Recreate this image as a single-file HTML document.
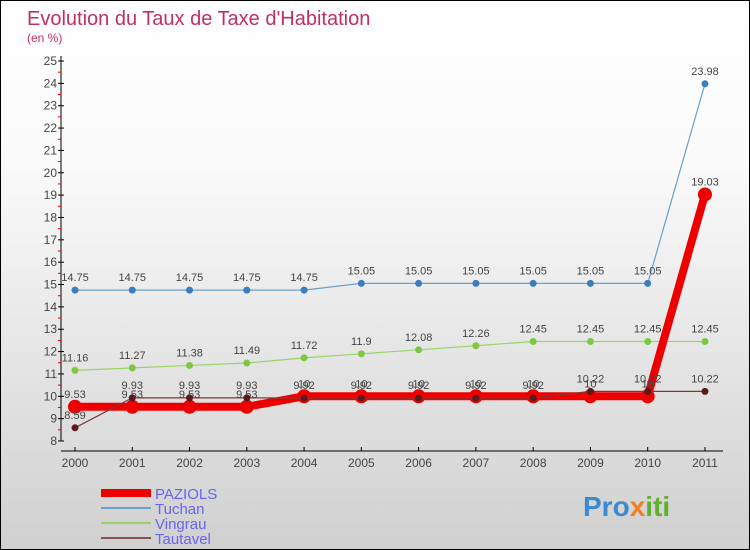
<!DOCTYPE html>
<html><head><meta charset="utf-8"><style>
body{margin:0}
#c{width:748px;height:548px;border:1px solid #000;background:linear-gradient(#fff,#fafafa 30%,#d0d0d0);position:relative;overflow:hidden;font-family:"Liberation Sans",sans-serif}
</style></head><body>
<div id="c">
<svg id="s" width="748" height="548" xmlns="http://www.w3.org/2000/svg" style="position:absolute;left:0;top:0">
<text x="26" y="24" font-size="20" fill="#c0305e">Evolution du Taux de Taxe d'Habitation</text>
<text x="26" y="41" font-size="12" fill="#c0305e">(en %)</text>
<g id="axes"></g><g id="series"></g><g id="legend"></g>
<text x="582" y="515" font-size="28" font-weight="bold" fill="#3a8ad0">Pro<tspan fill="#f08020">x</tspan><tspan fill="#60b030">iti</tspan></text>
</svg>
</div>
<script>
const years=["2000","2001","2002","2003","2004","2005","2006","2007","2008","2009","2010","2011"];
const yTicks=[8,9,10,11,12,13,14,15,16,17,18,19,20,21,22,23,24,25];
const paziols=[9.53,9.53,9.53,9.53,10,10,10,10,10,10,10,19.03];
const tuchan=[14.75,14.75,14.75,14.75,14.75,15.05,15.05,15.05,15.05,15.05,15.05,23.98];
const vingrau=[11.16,11.27,11.38,11.49,11.72,11.9,12.08,12.26,12.45,12.45,12.45,12.45];
const tautavel=[8.59,9.93,9.93,9.93,9.92,9.92,9.92,9.92,9.92,10.22,10.22,10.22];
const NS="http://www.w3.org/2000/svg";
const X=i=>74+i*57.27, Y=v=>440-(v-8)*(380/17);
function el(t,a,p){const e=document.createElementNS(NS,t);for(const k in a)e.setAttribute(k,a[k]);p.appendChild(e);return e;}
const ax=document.getElementById('axes');
let l=el('line',{x1:60,y1:55,x2:60,y2:440,stroke:'#000'},ax);


l=el('line',{x1:60,y1:450,x2:722,y2:450,stroke:'#000'},ax);


yTicks.forEach(v=>{
 el('line',{x1:57,x2:63,y1:Y(v),y2:Y(v),stroke:'#000'},ax);
 if(v<25) el('line',{x1:57,x2:60,y1:Y(v+0.5),y2:Y(v+0.5),stroke:'#e00'},ax);
 const t=el('text',{x:56,y:Y(v)+4,'font-size':12,'text-anchor':'end',fill:'#444'},ax);t.textContent=v;
 
 
});
years.forEach((y,i)=>{
 el('line',{x1:X(i),x2:X(i),y1:446,y2:450,stroke:'#000'},ax);
 const t=el('text',{x:X(i),y:466,'font-size':12,'text-anchor':'middle',fill:'#444'},ax);t.textContent=y;
 
 
});
const sg=document.getElementById('series');
function draw(d,c,w,r,name,dotc){
 const g=el('g',{},sg);
 
 
 el('polyline',{points:d.map((v,i)=>X(i)+','+Y(v)).join(' '),fill:'none',stroke:c,'stroke-width':w},g);
 d.forEach((v,i)=>{
  const p=el('circle',{cx:X(i),cy:Y(v),r:r,fill:dotc},g);
  
  
  const t=el('text',{x:X(i),y:Y(v)-9,'font-size':11,'text-anchor':'middle',fill:'#444'},g);t.textContent=v;
 });
}
draw(tuchan,'#6aa0cc',1.2,3.5,'tuchan','#3b7ec0');
draw(vingrau,'#9ad36a',1.2,3.5,'vingrau','#7cc840');
draw(paziols,'#ee0000',8,7,'paziols','#ee0000');
draw(tautavel,'#7a3a3a',1.2,3.5,'tautavel','#5a1a1a');
const lg=document.getElementById('legend');
[['PAZIOLS','#ee0000',8],['Tuchan','#6aa0cc',2],['Vingrau','#9ad36a',2],['Tautavel','#8a5050',2]].forEach((e,i)=>{
 const y=492+i*15;
 el('line',{x1:100,x2:150,y1:y,y2:y,stroke:e[1],'stroke-width':e[2]},lg);
 const t=el('text',{x:154,y:y+6,'font-size':15,fill:'#6666ee'},lg);t.textContent=e[0];
 
 
});
</script>
</body></html>
